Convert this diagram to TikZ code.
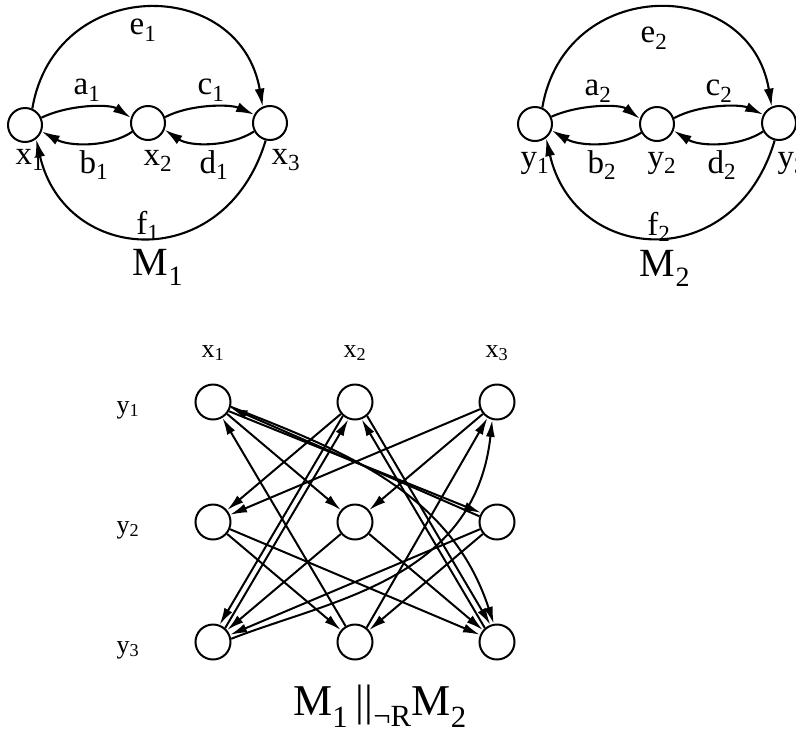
\documentclass[tikz,border=0pt]{standalone}
\usepackage{fontspec}
\setmainfont{Liberation Serif}
\usetikzlibrary{arrows.meta}
\begin{document}
\begin{tikzpicture}[x=1pt,y=-1pt,
  st/.style={circle,draw,line width=2pt,minimum size=34pt,inner sep=0pt},
  gst/.style={circle,draw,line width=2pt,minimum size=35pt,inner sep=0pt},
  tr/.style={line width=2.1pt,-{Latex[length=18pt,width=10pt]}},
  gtr/.style={line width=2pt,-{Latex[length=17pt,width=9pt]}},
  lab/.style={font=\fontsize{33}{33}\selectfont,inner sep=0pt},
  glab/.style={font=\fontsize{26}{26}\selectfont,inner sep=0pt},
  mlab/.style={font=\fontsize{40}{40}\selectfont,inner sep=0pt},
  blab/.style={font=\fontsize{44}{44}\selectfont,inner sep=0pt}
]
\useasboundingbox (0,0) rectangle (796,740);
% ---------- M1 ----------
\node[st] (x1) at (25,125) {};
\node[st] (x2) at (148,123) {};
\node[st] (x3) at (270,123) {};
\draw[tr] (x1.66) .. controls (55,-25) and (240,-25) .. (x3.114);
\draw[tr] (x3.256) .. controls (225,275) and (65,265) .. (x1.308);
\draw[tr] (x1.24) .. controls (70,104) and (110,104) .. (x2.163);
\draw[tr] (x2.209) .. controls (110,147) and (70,147) .. (x1.339);
\draw[tr] (x2.19) .. controls (190,104) and (230,104) .. (x3.152);
\draw[tr] (x3.208) .. controls (230,147) and (190,147) .. (x2.338);
\node[lab] (le1) at (143,30) {e\textsubscript{1}};
\node[lab] (la1) at (87,90) {a\textsubscript{1}};
\node[lab] (lc1) at (211,90) {c\textsubscript{1}};
\node[lab] (lx1) at (30,160) {x\textsubscript{1}};
\node[lab] (lb1) at (94,165) {b\textsubscript{1}};
\node[lab] (lx2) at (158,161) {x\textsubscript{2}};
\node[lab] (ld1) at (214,165) {d\textsubscript{1}};
\node[lab] (lx3) at (286,160) {x\textsubscript{3}};
\node[lab] (lf1) at (148,226) {f\textsubscript{1}};
\node[mlab] (lM1) at (158,267) {M\textsubscript{1}};
% ---------- M2 ----------
\node[st] (y1) at (535,124) {};
\node[st] (y2) at (657,124) {};
\node[st] (y3) at (779,123) {};
\draw[tr] (y1.66) .. controls (565,-25) and (750,-25) .. (y3.114);
\draw[tr] (y3.256) .. controls (735,275) and (575,265) .. (y1.308);
\draw[tr] (y1.24) .. controls (580,104) and (620,104) .. (y2.163);
\draw[tr] (y2.209) .. controls (620,147) and (580,147) .. (y1.339);
\draw[tr] (y2.19) .. controls (700,104) and (740,104) .. (y3.152);
\draw[tr] (y3.208) .. controls (740,147) and (700,147) .. (y2.338);
\node[lab] (le2) at (654,38) {e\textsubscript{2}};
\node[lab] (la2) at (598,91) {a\textsubscript{2}};
\node[lab] (lc2) at (719,91) {c\textsubscript{2}};
\node[lab] (ly1) at (535,163) {y\textsubscript{1}};
\node[lab] (lb2) at (602,165) {b\textsubscript{2}};
\node[lab] (ly2) at (662,163) {y\textsubscript{2}};
\node[lab] (ld2) at (722,165) {d\textsubscript{2}};
\node[lab] (ly3) at (792,163) {y\textsubscript{3}};
\node[lab] (lf2) at (659,227) {f\textsubscript{2}};
\node[mlab] (lM2) at (665,268) {M\textsubscript{2}};
% ---------- product ----------
\node[gst] (g11) at (213,402) {};
\node[gst] (g21) at (355,402) {};
\node[gst] (g31) at (497,402) {};
\node[gst] (g12) at (213,522) {};
\node[gst] (g22) at (355,522) {};
\node[gst] (g32) at (497,522) {};
\node[gst] (g13) at (213,642) {};
\node[gst] (g23) at (355,642) {};
\node[gst] (g33) at (497,642) {};
\node[glab] (hx1) at (213,353) {x\textsubscript{1}};
\node[glab] (hx2) at (355,353) {x\textsubscript{2}};
\node[glab] (hx3) at (497,353) {x\textsubscript{3}};
\node[glab] (hy1) at (128,410) {y\textsubscript{1}};
\node[glab] (hy2) at (128,530) {y\textsubscript{2}};
\node[glab] (hy3) at (128,650) {y\textsubscript{3}};
% y1 <- y3 row transitions
\draw[gtr] (g23) -- (g11);
\draw[gtr] (g13.49) -- (g21.249);
\draw[gtr] (g33.131) -- (g21.291);
\draw[gtr] (g23.51) -- (g31.239);
\draw[gtr] (g13.10) .. controls (330,600) and (475,580) .. (g31.255);
% y1 -> y2
\draw[gtr] (g21) -- (g12);
\draw[gtr] (g31) -- (g12);
\draw[gtr] (g11) -- (g22);
\draw[gtr] (g31) -- (g22);
\draw[gtr] (g11.330) -- (g32.150);
% y2 -> y3 and y1 -> y3
\draw[gtr] (g21.229) -- (g13.69);
\draw[gtr] (g22) -- (g13);
\draw[gtr] (g32) -- (g13);
\draw[gtr] (g12) -- (g23);
\draw[gtr] (g32) -- (g23);
\draw[gtr] (g11.345) .. controls (340,450) and (450,490) .. (g33.100);
\draw[gtr] (g12) -- (g33);
\draw[gtr] (g22) -- (g33);
\draw[gtr] (g21.311) -- (g33.111);
% y2 -> y1
\draw[gtr] (g32.162) -- (g11.342);
\node[blab] (lprod) at (380,706) {M\textsubscript{1}\,||\textsubscript{¬R}M\textsubscript{2}};
\end{tikzpicture}
\end{document}
